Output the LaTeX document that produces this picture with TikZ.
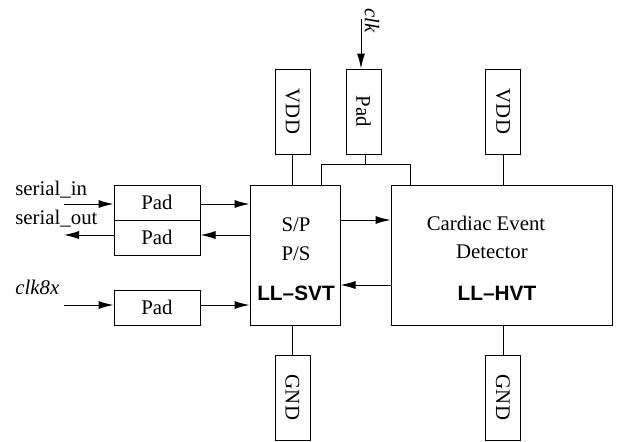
\documentclass[tikz,border=0pt]{standalone}
\usepackage{fontspec}
\setmainfont{Liberation Serif}
\setsansfont{Liberation Sans}
\usetikzlibrary{arrows.meta}
\usetikzlibrary{calc}

\begin{document}
\begin{tikzpicture}[x=0.5pt,y=-0.5pt]
        \tikzset{every node/.style = {font=\fontsize{10.4}{12.5}\selectfont,inner sep=0pt}}
        \tikzset{wire/.style = {line width=0.5pt}}
        \tikzset{sig/.style = {wire,-{Latex[length=7.5pt,width=4pt]}}}
        \tikzset{pad/.style = {draw,line width=0.5pt,minimum width=43pt,minimum height=17.5pt}}
        \tikzset{vpad/.style = {pad,minimum width=42.5pt,minimum height=17.5pt,rotate=-90}}
        \tikzset{block/.style = {draw,line width=0.5pt,minimum height=70pt}}
        \tikzset{tech/.style = {font=\fontsize{10.4}{12.5}\sffamily\bfseries\selectfont}}
        \useasboundingbox (0,0) rectangle (621,441);

        \node[vpad] (vdd1) at (292.5,111.5) {VDD};
        \node[vpad] (clkpad) at (363.5,111.5) {Pad};
        \node[vpad] (vdd2) at (503,111.5) {VDD};
        \node[block,minimum width=45pt] (svt) at (295,255) {};
        \node[block,minimum width=110.5pt] (hvt) at (501.5,255) {};
        \node[vpad] (gnd1) at (292.5,397.5) {GND};
        \node[vpad] (gnd2) at (503,397.5) {GND};
        \node[pad] (inpad) at (157,202.5) {Pad};
        \node[pad] (outpad) at (157,237.5) {Pad};
        \node[pad] (c8pad) at (157,307.5) {Pad};

        \node[anchor=base] (sp) at (296,231.5) {S/P};
        \node[anchor=base] (ps) at (296,260.5) {P/S};
        \node[anchor=base,tech] (svtname) at (296,300) {LL--SVT};
        \node[anchor=base] (cardiac) at (486,230.5) {Cardiac Event};
        \node[anchor=base] (det) at (492,258) {Detector};
        \node[anchor=base,tech] (hvtname) at (497,300) {LL--HVT};

        \node[anchor=base west] (sinlbl) at (15,195) {serial\_in};
        \node[anchor=base west] (soutlbl) at (15,224) {serial\_out};
        \node[anchor=base west] (c8lbl) at (15,294) {\textit{clk8x}};
        \node[rotate=-90] (clklbl) at (372,21) {\textit{clk}};

        \coordinate (clkin) at (361,19);
        \coordinate (clkj) at (365,164);
        \coordinate (sin) at (64,204);
        \coordinate (sout) at (64,235);
        \coordinate (c8in) at (64,305);

        \draw[sig] (clkin) -- (clkin |- clkpad.west);
        \draw[wire] (clkj |- clkpad.east) -- (clkj);
        \draw[wire] ($(svt.north east)+(-19,0)$) |- (clkj) -| ($(hvt.north west)+(20,0)$);
        \draw[wire] (vdd1) -- (vdd1 |- svt.north);
        \draw[wire] (vdd2) -- (vdd2 |- hvt.north);
        \draw[wire] (gnd1) -- (gnd1 |- svt.south);
        \draw[wire] (gnd2) -- (gnd2 |- hvt.south);

        \draw[sig] (sin) -- (sin -| inpad.west);
        \draw[sig] (inpad.east |- sin) -- (sin -| svt.west);
        \draw[sig] (svt.west |- sout) -- (sout -| outpad.east);
        \draw[sig] (outpad.west |- sout) -- (sout);
        \draw[sig] (c8in) -- (c8in -| c8pad.west);
        \draw[sig] (c8pad.east |- c8in) -- (c8in -| svt.west);
        \draw[sig] ([yshift=17.5pt]svt.east) -- ([yshift=17.5pt]hvt.west);
        \draw[sig] ([yshift=-15pt]hvt.west) -- ([yshift=-15pt]svt.east);
\end{tikzpicture}
\end{document}
